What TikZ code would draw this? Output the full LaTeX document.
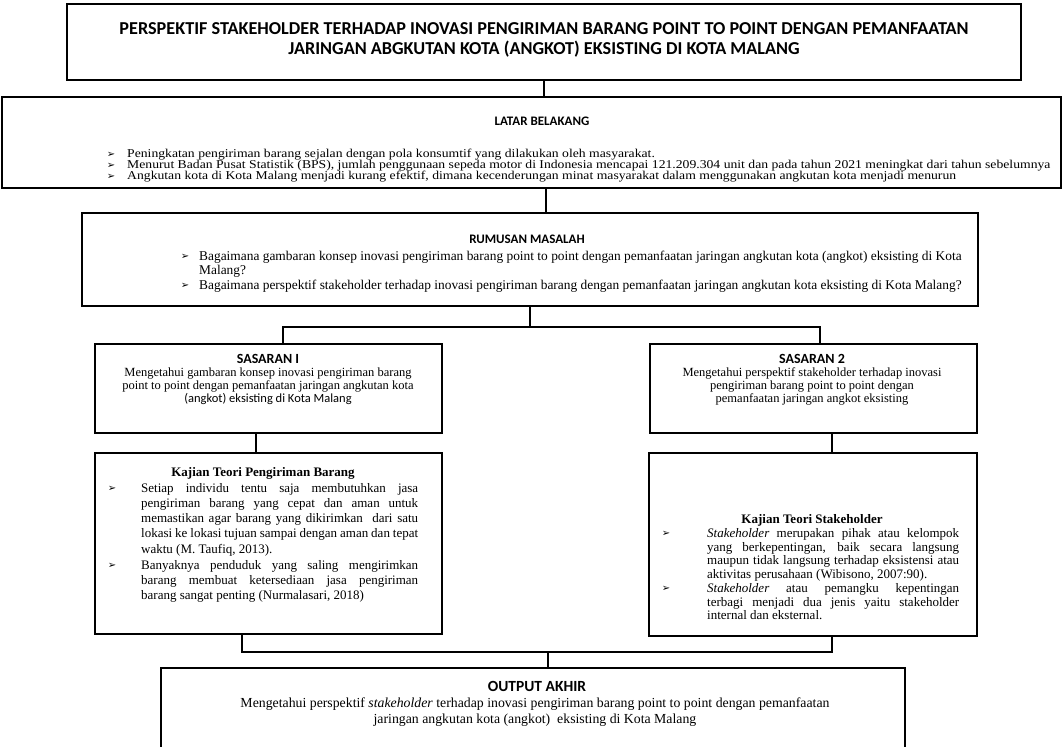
\documentclass[tikz,border=0pt]{standalone}
\usepackage{fontspec}
\setmainfont{Liberation Serif}
\newfontfamily\calib{Carlito}
\newfontfamily\lbf[FakeStretch=1.14]{Liberation Serif}
\newfontfamily\dvs{DejaVu Sans}
\newcommand\arr{{\dvs\fontsize{10}{10}\selectfont ➢}}
\newcommand\jl[2]{\makebox[#1][s]{#2}}
\tikzset{
  box/.style={draw, line width=2.4pt, rectangle, inner sep=0pt},
  conn/.style={line width=2.8pt},
  hd/.style={font=\calib\bfseries\fontsize{13}{14}\selectfont, inner sep=0pt},
  body/.style={font=\fontsize{12.5}{13}\selectfont, inner sep=0pt, align=center},
  kt/.style={font=\fontsize{13}{15.2}\selectfont, inner sep=0pt, align=left, anchor=north west},
  bul/.style={inner sep=0pt},
  lbt/.style={font=\lbf\fontsize{12}{11}\selectfont, inner sep=0pt, anchor=west},
  rmt/.style={font=\fontsize{13.4}{14}\selectfont, inner sep=0pt, anchor=west}
}
\begin{document}
\begin{tikzpicture}[x=1pt,y=-1pt]
\clip (0,0) rectangle (1063,747);
\useasboundingbox (0,0) rectangle (1063,747);
% boxes
\node[box, minimum width=954pt, minimum height=76pt] (title) at (544,42) {};
\node[box, minimum width=1059pt, minimum height=91pt] (lb) at (531.5,142.5) {};
\node[box, minimum width=896pt, minimum height=93pt] (rm) at (530,259.5) {};
\node[box, minimum width=347pt, minimum height=89pt] (s1) at (268.5,388.5) {};
\node[box, minimum width=327pt, minimum height=89pt] (s2) at (813.5,388.5) {};
\node[box, minimum width=347pt, minimum height=181pt] (kt1) at (268.5,543.5) {};
\node[box, minimum width=328pt, minimum height=183pt] (kt2) at (813,544.5) {};
\node[box, minimum width=744pt, minimum height=94pt] (out) at (533,715) {};
% connectors
\draw[conn] (title.south) -- (title.south |- lb.north);
\coordinate (c1) at (546,0);
\draw[conn] (c1 |- lb.south) -- (c1 |- rm.north);
\coordinate (j1) at (530,327);
\draw[conn] (rm.south) -- (rm.south |- j1);
\coordinate (s1c) at (283,0);
\coordinate (s2c) at (820,0);
\draw[conn] (s1c |- s1.north) -- (s1c |- j1) -- (s2c |- j1) -- (s2c |- s2.north);
\coordinate (k1) at (256,0);
\draw[conn] (k1 |- s1.south) -- (k1 |- kt1.north);
\coordinate (k2) at (832,0);
\draw[conn] (k2 |- s2.south) -- (k2 |- kt2.north);
\coordinate (j2) at (548,652);
\coordinate (b1) at (242,0);
\draw[conn] (b1 |- kt1.south) -- (b1 |- j2) -- (k2 |- j2) -- (k2 |- kt2.south);
\draw[conn] (j2) -- (j2 |- out.north);
% title
\node[font=\calib\bfseries\fontsize{18.2}{20}\selectfont, align=center, inner sep=0pt] (tt) at (544,40)
 {PERSPEKTIF STAKEHOLDER TERHADAP INOVASI PENGIRIMAN BARANG POINT TO POINT DENGAN PEMANFAATAN\\
  JARINGAN ABGKUTAN KOTA (ANGKOT) EKSISTING DI KOTA MALANG};
% latar belakang
\node[hd] (lbh) at (542,121) {LATAR BELAKANG};
\node[bul] (lbb1) at (111,155) {\arr};
\node[bul] (lbb2) at (111,166) {\arr};
\node[bul] (lbb3) at (111,177) {\arr};
\node[lbt] (lbt1) at (127,155) {Peningkatan pengiriman barang sejalan dengan pola konsumtif yang dilakukan oleh masyarakat.};
\node[lbt] (lbt2) at (127,166) {Menurut Badan Pusat Statistik (BPS), jumlah penggunaan sepeda motor di Indonesia mencapai 121.209.304 unit dan pada tahun 2021 meningkat dari tahun sebelumnya};
\node[lbt] (lbt3) at (127,177) {Angkutan kota di Kota Malang menjadi kurang efektif, dimana kecenderungan minat masyarakat dalam menggunakan angkutan kota menjadi menurun};
% rumusan masalah
\node[hd] (rmh) at (527,239) {RUMUSAN MASALAH};
\node[bul] (rmb1) at (185,257) {\arr};
\node[bul] (rmb2) at (185,286) {\arr};
\node[rmt] (rmt1) at (199,257) {Bagaimana gambaran konsep inovasi pengiriman barang point to point dengan pemanfaatan jaringan angkutan kota (angkot) eksisting di Kota};
\node[rmt] (rmt2) at (199,271) {Malang?};
\node[rmt] (rmt3) at (199,286) {Bagaimana perspektif stakeholder terhadap inovasi pengiriman barang dengan pemanfaatan jaringan angkutan kota eksisting di Kota Malang?};
% sasaran
\node[hd, font=\calib\bfseries\fontsize{14}{15}\selectfont] (s1h) at (268,359) {SASARAN I};
\node[body] (s1t) at (268,386) {Mengetahui gambaran konsep inovasi pengiriman barang\\ point to point dengan pemanfaatan jaringan angkutan kota\\ {\calib (angkot) eksisting di Kota Malang}};
\node[hd, font=\calib\bfseries\fontsize{14}{15}\selectfont] (s2h) at (812,359) {SASARAN 2};
\node[body] (s2t) at (812,386) {Mengetahui perspektif stakeholder terhadap inovasi\\ pengiriman barang point to point dengan\\ pemanfaatan jaringan angkot eksisting};
% kajian 1
\node[font=\bfseries\fontsize{13}{15}\selectfont, inner sep=0pt] (k1h) at (263,473) {Kajian Teori Pengiriman Barang};
\node[bul] (k1b1) at (112,489) {\arr};
\node[bul] (k1b2) at (112,566) {\arr};
\node[kt] (k1t1) at (141,483) {\jl{277pt}{Setiap individu tentu saja membutuhkan jasa}\\
 \jl{277pt}{pengiriman barang yang cepat dan aman untuk}\\
 \jl{277pt}{memastikan agar barang yang dikirimkan \ dari satu}\\
 \jl{277pt}{lokasi ke lokasi tujuan sampai dengan aman dan tepat}\\
 waktu (M. Taufiq, 2013).};
\node[kt] (k1t2) at (141,560) {\jl{277pt}{Banyaknya penduduk yang saling mengirimkan}\\
 \jl{277pt}{barang membuat ketersediaan jasa pengiriman}\\
 barang sangat penting (Nurmalasari, 2018)};
% kajian 2
\node[font=\bfseries\fontsize{13}{15}\selectfont, inner sep=0pt] (k2h) at (812,520) {Kajian Teori Stakeholder};
\node[bul] (k2b1) at (666,534) {\arr};
\node[bul] (k2b2) at (666,589) {\arr};
\node[kt, font=\fontsize{13}{13.8}\selectfont] (k2t1) at (707,528) {\jl{252pt}{\emph{Stakeholder} merupakan pihak atau kelompok}\\
 \jl{252pt}{yang berkepentingan, baik secara langsung}\\
 \jl{252pt}{maupun tidak langsung terhadap eksistensi atau}\\
 aktivitas perusahaan (Wibisono, 2007:90).};
\node[kt, font=\fontsize{13}{13.8}\selectfont] (k2t2) at (707,583) {\jl{252pt}{\emph{Stakeholder} atau pemangku kepentingan}\\
 \jl{252pt}{terbagi menjadi dua jenis yaitu stakeholder}\\
 internal dan eksternal.};
% output
\node[hd, font=\calib\bfseries\fontsize{15.5}{16}\selectfont] (oh) at (537,686) {OUTPUT AKHIR};
\node[body, font=\fontsize{13.8}{16}\selectfont] (ot) at (535,712) {Mengetahui perspektif \emph{stakeholder} terhadap inovasi pengiriman barang point to point dengan pemanfaatan\\ jaringan angkutan kota (angkot) \ eksisting di Kota Malang};
\end{tikzpicture}
\end{document}
